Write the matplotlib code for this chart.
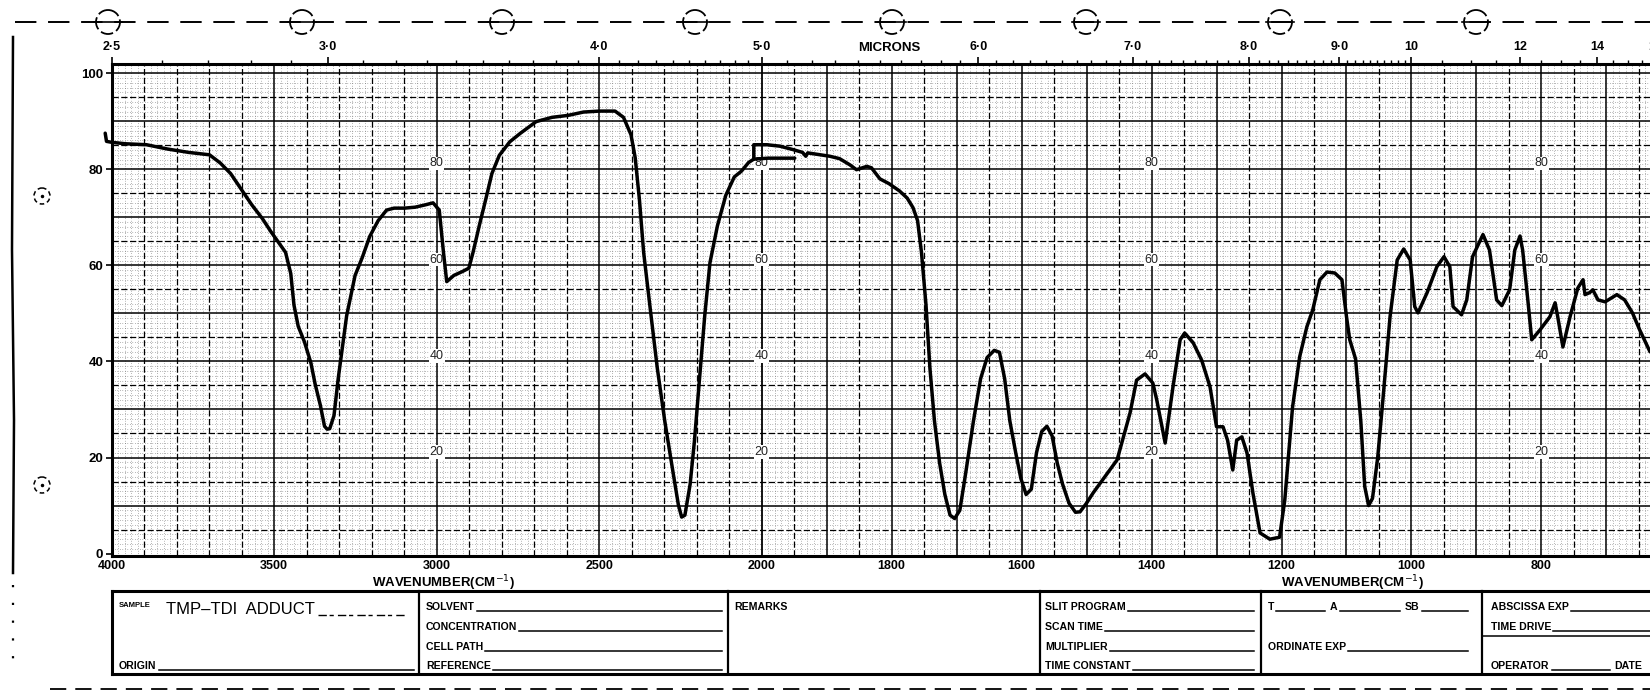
import matplotlib
matplotlib.use("Agg")
import matplotlib.pyplot as plt
import numpy as np
from matplotlib.patches import Circle
from matplotlib.ticker import FixedLocator, NullFormatter

plt.rcParams['font.family'] = ['Liberation Sans', 'DejaVu Sans']

# first pen pass, 4000 -> 2000 cm-1 (pen parks at ~82 % at the chart change)
wn_a = [4020, 4016, 4000, 3958, 3893, 3828, 3763, 3699, 3666, 3634, 3601, 3569, 3536,
        3511, 3488, 3465, 3449, 3439, 3426, 3407, 3387, 3374, 3358, 3345, 3337, 3329,
        3316, 3303, 3277, 3251, 3229, 3206, 3180, 3154, 3131, 3099, 3066, 3034, 3011,
        2992, 2979, 2969, 2947, 2921, 2901, 2888, 2869, 2849, 2830, 2807, 2775, 2742,
        2694, 2645, 2596, 2548, 2499, 2451, 2425, 2402, 2389, 2376, 2363, 2344, 2321,
        2298, 2272, 2256, 2246, 2236, 2226, 2220, 2207, 2191, 2175, 2159, 2136, 2110,
        2084, 2062, 2040, 2024, 1990, 1949]
t_a = [87.5, 85.8, 85.6, 85.3, 85.1, 84.2, 83.5, 83.0, 81.3, 79.1, 75.8, 72.6, 69.7,
       67.1, 64.9, 62.7, 58.3, 51.7, 47.3, 44.1, 39.7, 35.3, 30.9, 26.5, 25.9, 26.0,
       28.7, 36.4, 49.5, 57.9, 61.6, 66.0, 69.3, 71.5, 71.9, 71.9, 72.1, 72.6, 73.0,
       71.5, 62.7, 56.6, 57.9, 58.7, 59.4, 62.7, 68.2, 73.7, 79.1, 82.9, 85.7, 87.5,
       89.9, 90.8, 91.2, 91.9, 92.1, 92.1, 90.8, 87.2, 82.4, 73.7, 62.7, 51.7, 38.6,
       27.6, 16.7, 10.1, 7.6, 8.0, 12.0, 14.4, 23.2, 36.4, 49.5, 60.5, 68.2, 74.6,
       78.4, 79.6, 81.4, 82.1, 82.3, 82.3]

# second pen pass, 2000 cm-1 -> end of chart
wn_b = [2024, 2024, 1992, 1972, 1952, 1937, 1932, 1929, 1910, 1895, 1880, 1864, 1854,
        1838, 1831, 1818, 1804, 1788, 1776, 1767, 1760, 1754, 1747, 1741, 1734, 1726,
        1718, 1710, 1703, 1695, 1686, 1674, 1663, 1653, 1642, 1634, 1626, 1618, 1609,
        1601, 1593, 1585, 1577, 1569, 1561, 1553, 1545, 1537, 1527, 1517, 1510, 1500,
        1490, 1453, 1433, 1423, 1410, 1398, 1392, 1379, 1367, 1356, 1349, 1336, 1323,
        1310, 1300, 1290, 1283, 1275, 1269, 1261, 1253, 1244, 1233, 1218, 1203, 1195,
        1183, 1172, 1161, 1152, 1141, 1130, 1118, 1107, 1100, 1095, 1086, 1078, 1072,
        1066, 1060, 1052, 1044, 1033, 1022, 1012, 1002, 995, 990, 976, 961, 950, 941,
        936, 923, 915, 906, 890, 880, 869, 861, 849, 841, 833, 829, 821, 815, 802, 787,
        779, 775, 767, 756, 744, 736, 733, 726, 721, 713, 702, 684, 672, 660, 649, 633]
t_b = [82.1, 85.1, 85.1, 84.8, 84.1, 83.5, 82.7, 83.4, 83.0, 82.7, 82.2, 80.9, 79.9,
       80.6, 80.3, 78.0, 77.0, 75.5, 74.0, 72.0, 69.3, 62.7, 51.7, 38.6, 27.6, 18.8,
       12.3, 8.0, 7.3, 9.0, 16.7, 27.6, 36.4, 40.8, 42.3, 41.9, 36.4, 27.6, 21.0,
       15.6, 12.3, 13.4, 21.0, 25.4, 26.5, 24.5, 18.8, 14.5, 10.5, 8.6, 8.7, 10.5,
       12.6, 19.5, 29.3, 36.1, 37.4, 35.5, 32.0, 23.0, 34.7, 44.5, 45.9, 43.9, 40.3,
       34.7, 26.4, 26.4, 23.6, 17.4, 23.6, 24.3, 20.9, 12.6, 4.3, 3.0, 3.4, 11.1,
       30.5, 41.0, 47.2, 50.7, 57.0, 58.6, 58.4, 57.0, 49.3, 44.5, 40.5, 27.6, 14.0,
       10.0, 11.5, 20.0, 32.0, 49.3, 61.1, 63.4, 61.1, 51.4, 50.1, 54.3, 59.7, 61.8, 59.7,
       51.4, 49.7, 52.8, 61.8, 66.4, 63.2, 52.8, 51.6, 54.9, 63.2, 66.1, 63.2, 52.8, 44.5,
       46.6, 49.3, 52.2, 49.3, 43.0, 49.3, 55.3, 57.0, 53.9, 54.3, 54.9, 52.8, 52.4,
       53.9, 52.8, 50.1, 46.6, 42.0]

wn_ticks = [4000, 3500, 3000, 2500, 2000, 1800, 1600, 1400, 1200, 1000, 800]
t_ticks = [0, 20, 40, 60, 80, 100]
micron_ticks = [2.5, 3.0, 4.0, 5.0, 6.0, 7.0, 8.0, 9.0, 10, 12, 14]
micron_labels = ['2·5', '3·0', '4·0', '5·0', '6·0', '7·0', '8·0', '9·0', '10', '12', '14']
grid_label_vals = [20, 40, 60, 80]
grid_label_cols = [3000, 2000, 1400, 800]


# chart paper: half scale above 2000 cm-1, full scale below.
# forward is increasing in wavenumber; the axis limits run 4000 -> 633.
def fwd(w):
    w = np.asarray(w, dtype=float)
    return -np.where(w >= 2000, (4000 - w) / 2.0, 3000 - w)


def inv(q):
    p = -np.asarray(q, dtype=float)
    return np.where(p <= 1000, 4000 - 2.0 * p, 3000 - p)


W, H = 1650, 693
fig = plt.figure(figsize=(W / 100, H / 100), dpi=100)
fig.patch.set_facecolor('white')

# page furniture drawn in pixel units
frame = fig.add_axes([0, 0, 1, 1], zorder=0)
frame.set_xlim(0, W)
frame.set_ylim(H, 0)
frame.axis('off')

left_px, top_px, bot_px = 111.7, 64, 556
ax = fig.add_axes([left_px / W, (H - bot_px) / H, 1 - left_px / W, (bot_px - top_px) / H], zorder=2)
ax.set_xscale('function', functions=(fwd, inv))
ax.set_xlim(4000, 633)
ax.set_ylim(-0.5, 101.9)
ax.patch.set_alpha(0)

# fine dotted grid
dot = dict(color='#505050', lw=0.45, dashes=(1.0, 3.0), zorder=1)
for w in list(range(3980, 2000, -20)) + list(range(1990, 630, -10)):
    if (w >= 2000 and w % 100) or (w < 2000 and w % 50):
        ax.axvline(w, **dot)
for t in range(1, 101):
    if t % 5:
        ax.axhline(t, **dot)

# dashed and solid rulings
for w in list(range(3900, 2000, -100)) + list(range(1950, 630, -50)):
    major = (w >= 2000 and w % 500 == 0) or (w < 2000 and w % 100 == 0)
    if major:
        ax.axvline(w, color='black', lw=1.1, zorder=2)
    else:
        ax.axvline(w, color='black', lw=0.9, dashes=(5, 2), zorder=2)
ax.axvline(2000, color='black', lw=1.3, zorder=2)
for t in range(5, 101, 5):
    if t % 10 == 0:
        ax.axhline(t, color='black', lw=1.1, zorder=2)
    else:
        ax.axhline(t, color='black', lw=0.9, dashes=(5, 2), zorder=2)

# percent figures printed on the paper
for c in grid_label_cols:
    for v in grid_label_vals:
        ax.text(c, v + 1.2, str(v), ha='center', va='center', fontsize=9, color='#222222',
                zorder=3, bbox=dict(fc='white', ec='none', pad=0.6))

# the spectrum trace
ax.plot(wn_a, t_a, color='black', lw=2.5, zorder=6, clip_on=False,
        solid_joinstyle='round', solid_capstyle='round')
ax.plot(wn_b, t_b, color='black', lw=2.5, zorder=6, clip_on=False,
        solid_joinstyle='round', solid_capstyle='round')

for s in ['left', 'bottom', 'top']:
    ax.spines[s].set_linewidth(2.2)
ax.spines['right'].set_visible(False)

ax.set_xticks(wn_ticks)
ax.set_xticklabels([str(v) for v in wn_ticks], fontsize=9, fontweight='bold')
ax.tick_params(axis='x', length=0, pad=3)
ax.set_yticks(t_ticks)
ax.set_yticklabels([str(v) for v in t_ticks], fontsize=9.5, fontweight='bold')
ax.tick_params(axis='y', length=4, width=1.2, direction='out', pad=2)

# microns scale along the top edge
top = ax.twiny()
top.set_xscale('function', functions=(fwd, inv))
top.set_xlim(ax.get_xlim())
top.set_xticks([1e4 / u for u in micron_ticks])
top.set_xticklabels(micron_labels, fontsize=9, fontweight='bold')
minor_um = list(np.arange(2.6, 10.0, 0.1)) + [10.5, 11, 11.5, 12.5, 13, 13.5, 14.5, 15, 15.5]
top.xaxis.set_minor_locator(FixedLocator([1e4 / u for u in minor_um]))
top.xaxis.set_minor_formatter(NullFormatter())
top.tick_params(axis='x', which='major', length=5, width=1.2, direction='out', pad=3)
top.tick_params(axis='x', which='minor', length=3, width=1.0, direction='out')
for s in top.spines.values():
    s.set_visible(False)
top.annotate('16', xy=(625, 1), xycoords=('data', 'axes fraction'), xytext=(0, 8),
             textcoords='offset points', ha='center', va='bottom', fontsize=9,
             fontweight='bold', annotation_clip=False)
frame.text(889, 48, 'MICRONS', ha='center', va='center', fontsize=9.5, fontweight='bold')

for x in (443, 1352):
    frame.text(x, 583, 'WAVENUMBER(CM$^{-1}$)', ha='center', va='center', fontsize=9.5,
               fontweight='bold')

# punched margin: dashed line with holes across the top
frame.plot([15, W], [22, 22], color='black', lw=1.4, dashes=(11, 6))
for cx in [108, 302, 502, 695, 892, 1086, 1280, 1476]:
    frame.add_patch(Circle((cx, 22), 12, fill=False, ec='black', lw=1.3,
                           ls=(0, (7, 2)), zorder=3))
    frame.plot([cx - 14, cx + 14], [22, 22], color='black', lw=1.2)
frame.plot([13, 12, 14, 13], [37, 250, 420, 573], color='black', lw=1.8)
frame.plot([13, 13], [585, 672], color='black', lw=1.6, dashes=(1, 7))
for cy in (196, 485):
    frame.add_patch(Circle((42, cy), 8, fill=False, ec='black', lw=1.1, ls=(0, (3, 2))))
    frame.plot([42], [cy], marker='.', color='black', ms=3)
frame.plot([50, W], [689, 689], color='black', lw=1.3, dashes=(9, 5))

# form block under the chart
bx0, by0, by1 = 112, 591, 674
frame.plot([bx0, W], [by0, by0], color='black', lw=2.2)
frame.plot([bx0, W], [by1, by1], color='black', lw=2.2)
frame.plot([bx0, bx0], [by0, by1], color='black', lw=2.2)
for x in (419, 728, 1040, 1261, 1482):
    frame.plot([x, x], [by0, by1], color='black', lw=1.6)
frame.plot([1482, W], [636, 636], color='black', lw=1.1)

rows = [610, 630, 650, 669]
fields = []


def field(x, y, label, end, size=7.6):
    t = frame.text(x, y, label, fontsize=size, fontweight='bold', ha='left', va='baseline')
    if end is not None:
        fields.append((t, end, y))
    return t


frame.text(119, 607, 'SAMPLE', fontsize=5.5, fontweight='bold', ha='left', va='baseline')
frame.text(166, 614, 'TMP–TDI  ADDUCT', fontsize=12, ha='left', va='baseline')
frame.plot([318, 405], [615, 615], color='black', lw=1.0, dashes=(6, 2, 3, 3))
field(119, rows[3], 'ORIGIN', 414)

field(426, rows[0], 'SOLVENT', 722)
field(426, rows[1], 'CONCENTRATION', 722)
field(426, rows[2], 'CELL PATH', 722)
field(426, rows[3], 'REFERENCE', 722)

field(734, rows[0], 'REMARKS', None)

field(1045, rows[0], 'SLIT PROGRAM', 1254)
field(1045, rows[1], 'SCAN TIME', 1254)
field(1045, rows[2], 'MULTIPLIER', 1254)
field(1045, rows[3], 'TIME CONSTANT', 1254)

field(1268, rows[0], 'T', 1325)
field(1330, rows[0], 'A', 1400)
field(1405, rows[0], 'SB', 1468)
field(1268, rows[2], 'ORDINATE EXP', 1468)

field(1491, rows[0], 'ABSCISSA EXP', W)
field(1491, rows[1], 'TIME DRIVE', W)
field(1491, rows[3], 'OPERATOR', 1610)
field(1614, rows[3], 'DATE', None)

fig.canvas.draw()
renderer = fig.canvas.get_renderer()
to_px = frame.transData.inverted()
for t, end, y in fields:
    bb = t.get_window_extent(renderer)
    x_start = to_px.transform((bb.x1, bb.y0))[0] + 2
    frame.plot([x_start, end], [y + 1, y + 1], color='black', lw=1.1)

fig.savefig('out.png', dpi=100, facecolor='white')
